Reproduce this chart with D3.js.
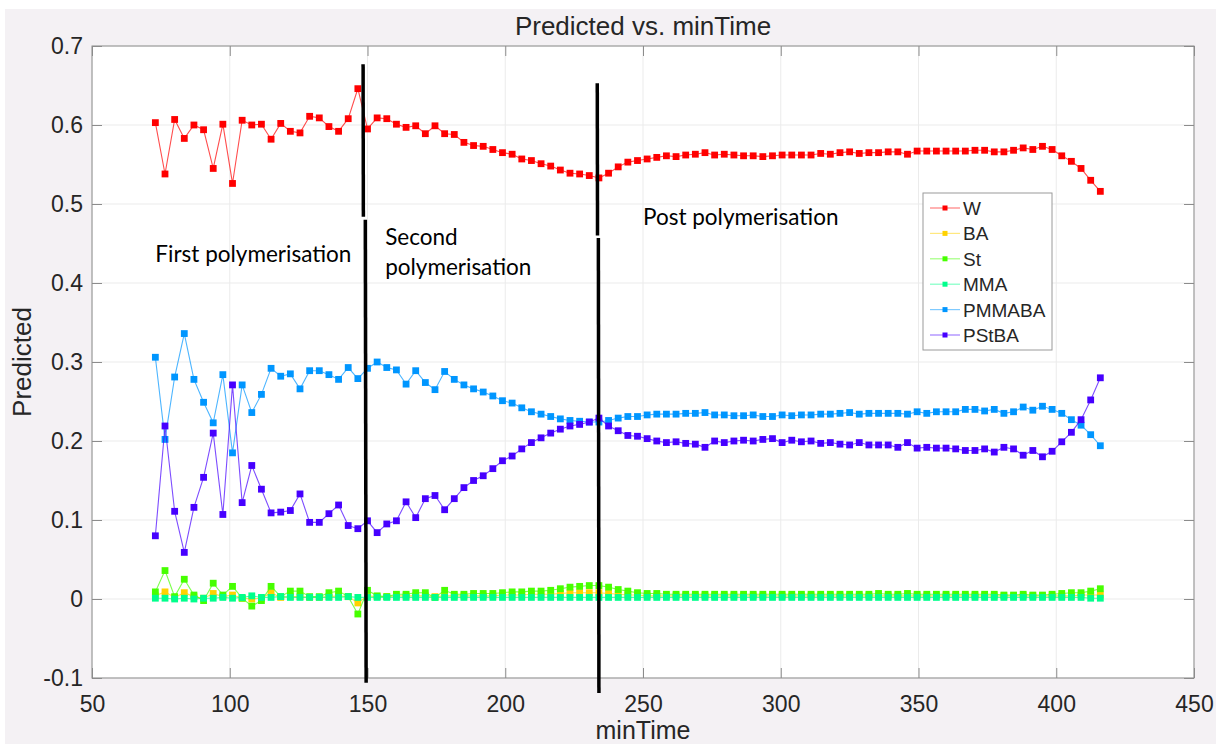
<!DOCTYPE html>
<html>
<head>
<meta charset="utf-8">
<script src="https://cdn.jsdelivr.net/npm/d3@7"></script>
<style>
body{margin:0;background:#fff;}
svg text{font-family:"Liberation Sans",Arial,Helvetica,sans-serif;fill:#262626;}
</style>
</head>
<body>
<div id="vis"></div>
<script>
// sample times (min)
var minTime = [
    73, 76.5, 80, 83.5, 87, 90.5, 94, 97.5, 101, 104.5,
    108, 111.5, 115, 118.5, 122, 125.5, 129, 132.5, 136, 139.5,
    143, 146.5, 150, 153.5, 157, 160.5, 164, 167.5, 171, 174.5,
    178, 181.5, 185, 188.5, 192, 195.5, 199, 202.5, 206, 209.5,
    213, 216.5, 220, 223.5, 227, 230.5, 234, 237.5, 241, 244.5,
    248, 251.5, 255, 258.5, 262, 265.5, 269, 272.5, 276, 279.5,
    283, 286.5, 290, 293.5, 297, 300.5, 304, 307.5, 311, 314.5,
    318, 321.5, 325, 328.5, 332, 335.5, 339, 342.5, 346, 349.5,
    353, 356.5, 360, 363.5, 367, 370.5, 374, 377.5, 381, 384.5,
    388, 391.5, 395, 398.5, 402, 405.5, 409, 412.5, 416
];

// predicted fractions, one array per component
var W = [
    0.603, 0.538, 0.607, 0.583, 0.600, 0.594, 0.545, 0.601, 0.526, 0.606,
    0.600, 0.601, 0.582, 0.602, 0.592, 0.590, 0.611, 0.609, 0.598, 0.592,
    0.608, 0.646, 0.595, 0.609, 0.608, 0.601, 0.597, 0.599, 0.589, 0.599,
    0.589, 0.588, 0.578, 0.574, 0.573, 0.569, 0.565, 0.563, 0.557, 0.555,
    0.551, 0.548, 0.543, 0.539, 0.538, 0.536, 0.533, 0.539, 0.547, 0.553,
    0.555, 0.557, 0.559, 0.561, 0.560, 0.562, 0.563, 0.565, 0.562, 0.563,
    0.562, 0.561, 0.561, 0.560, 0.561, 0.562, 0.562, 0.562, 0.562, 0.564,
    0.563, 0.565, 0.566, 0.564, 0.565, 0.565, 0.566, 0.566, 0.563, 0.567,
    0.567, 0.567, 0.567, 0.567, 0.567, 0.568, 0.568, 0.566, 0.566, 0.568,
    0.571, 0.569, 0.573, 0.569, 0.561, 0.554, 0.545, 0.530, 0.516
];
var BA = [
    0.004, 0.009, 0.002, 0.008, 0.003, 0.001, 0.007, 0.003, 0.005, 0.001,
    0.000, 0.001, 0.008, 0.002, 0.003, 0.003, 0.002, 0.002, 0.003, 0.004,
    0.003, -0.005, 0.004, 0.003, 0.003, 0.004, 0.004, 0.004, 0.004, 0.003,
    0.004, 0.004, 0.004, 0.004, 0.004, 0.004, 0.005, 0.005, 0.005, 0.006,
    0.006, 0.006, 0.007, 0.008, 0.008, 0.008, 0.008, 0.007, 0.006, 0.005,
    0.005, 0.004, 0.004, 0.004, 0.004, 0.004, 0.004, 0.004, 0.004, 0.004,
    0.004, 0.004, 0.004, 0.004, 0.004, 0.004, 0.004, 0.004, 0.004, 0.004,
    0.004, 0.004, 0.004, 0.004, 0.004, 0.004, 0.004, 0.004, 0.004, 0.004,
    0.004, 0.004, 0.004, 0.004, 0.004, 0.004, 0.004, 0.004, 0.004, 0.004,
    0.004, 0.004, 0.004, 0.004, 0.004, 0.004, 0.005, 0.005, 0.005
];
var St = [
    0.009, 0.036, 0.003, 0.025, 0.005, -0.002, 0.020, 0.005, 0.016, 0.001,
    -0.009, -0.002, 0.016, 0.003, 0.010, 0.010, 0.003, 0.003, 0.008, 0.010,
    0.003, -0.019, 0.011, 0.004, 0.003, 0.006, 0.006, 0.008, 0.008, 0.002,
    0.011, 0.006, 0.006, 0.007, 0.007, 0.007, 0.008, 0.009, 0.009, 0.010,
    0.010, 0.011, 0.013, 0.015, 0.016, 0.017, 0.017, 0.015, 0.012, 0.010,
    0.008, 0.007, 0.007, 0.006, 0.006, 0.006, 0.006, 0.006, 0.006, 0.006,
    0.006, 0.006, 0.006, 0.006, 0.006, 0.006, 0.006, 0.006, 0.006, 0.006,
    0.006, 0.006, 0.006, 0.006, 0.006, 0.007, 0.006, 0.006, 0.007, 0.006,
    0.006, 0.006, 0.006, 0.006, 0.006, 0.006, 0.006, 0.006, 0.005, 0.005,
    0.006, 0.005, 0.005, 0.006, 0.007, 0.008, 0.008, 0.010, 0.013
];
var MMA = [
    0.001, 0.001, 0.000, 0.001, 0.000, 0.001, 0.001, 0.002, 0.001, 0.002,
    0.004, 0.002, 0.002, 0.003, 0.002, 0.002, 0.002, 0.002, 0.002, 0.002,
    0.003, 0.002, 0.002, 0.002, 0.002, 0.002, 0.002, 0.002, 0.002, 0.002,
    0.002, 0.002, 0.002, 0.002, 0.002, 0.002, 0.002, 0.002, 0.002, 0.002,
    0.002, 0.002, 0.002, 0.002, 0.002, 0.002, 0.002, 0.002, 0.002, 0.002,
    0.002, 0.002, 0.002, 0.002, 0.002, 0.002, 0.002, 0.002, 0.002, 0.002,
    0.002, 0.002, 0.002, 0.002, 0.002, 0.002, 0.002, 0.002, 0.002, 0.002,
    0.002, 0.002, 0.002, 0.002, 0.002, 0.002, 0.002, 0.002, 0.002, 0.002,
    0.002, 0.002, 0.002, 0.002, 0.002, 0.002, 0.002, 0.002, 0.002, 0.002,
    0.002, 0.002, 0.002, 0.002, 0.002, 0.002, 0.002, 0.001, 0.001
];
var PMMABA = [
    0.306, 0.202, 0.281, 0.336, 0.278, 0.249, 0.223, 0.284, 0.185, 0.271,
    0.236, 0.259, 0.292, 0.282, 0.285, 0.266, 0.289, 0.289, 0.284, 0.278,
    0.293, 0.279, 0.292, 0.300, 0.293, 0.290, 0.272, 0.289, 0.274, 0.265,
    0.288, 0.278, 0.271, 0.266, 0.262, 0.257, 0.251, 0.248, 0.242, 0.237,
    0.234, 0.231, 0.228, 0.226, 0.225, 0.224, 0.224, 0.226, 0.229, 0.231,
    0.231, 0.233, 0.234, 0.234, 0.234, 0.235, 0.235, 0.236, 0.233, 0.233,
    0.232, 0.232, 0.233, 0.231, 0.231, 0.233, 0.232, 0.233, 0.233, 0.234,
    0.234, 0.235, 0.236, 0.234, 0.235, 0.235, 0.235, 0.235, 0.234, 0.237,
    0.235, 0.237, 0.237, 0.237, 0.240, 0.240, 0.238, 0.240, 0.235, 0.237,
    0.243, 0.239, 0.244, 0.240, 0.235, 0.227, 0.220, 0.208, 0.194
];
var PStBA = [
    0.080, 0.219, 0.111, 0.059, 0.116, 0.154, 0.210, 0.107, 0.271, 0.122,
    0.169, 0.139, 0.109, 0.110, 0.112, 0.133, 0.097, 0.097, 0.108, 0.119,
    0.093, 0.089, 0.099, 0.084, 0.095, 0.099, 0.123, 0.103, 0.127, 0.131,
    0.113, 0.127, 0.141, 0.150, 0.156, 0.165, 0.175, 0.181, 0.190, 0.198,
    0.204, 0.210, 0.215, 0.219, 0.221, 0.224, 0.229, 0.219, 0.213, 0.207,
    0.206, 0.203, 0.200, 0.198, 0.199, 0.197, 0.196, 0.192, 0.200, 0.198,
    0.200, 0.201, 0.200, 0.202, 0.203, 0.198, 0.201, 0.199, 0.200, 0.197,
    0.198, 0.196, 0.195, 0.198, 0.195, 0.195, 0.195, 0.192, 0.198, 0.191,
    0.192, 0.191, 0.191, 0.190, 0.188, 0.188, 0.190, 0.186, 0.192, 0.190,
    0.182, 0.188, 0.180, 0.187, 0.199, 0.211, 0.227, 0.252, 0.280
];

var seriesNames = ["W", "BA", "St", "MMA", "PMMABA", "PStBA"];
var seriesValues = [W, BA, St, MMA, PMMABA, PStBA];
var seriesColors = ["#ff0000", "#ffd200", "#46ff00", "#00ff8c", "#0096ff", "#4600ff"];

var xTicks = [50, 100, 150, 200, 250, 300, 350, 400, 450];
var yTicks = [-0.1, 0, 0.1, 0.2, 0.3, 0.4, 0.5, 0.6, 0.7];

// hand drawn phase boundaries, each as two strokes [[x,y],[x,y]]
var phaseLines = [
    [[[148.4, 0.677], [148.5, 0.484]], [[149.2, 0.480], [149.5, -0.106]]],
    [[[233.4, 0.653], [233.5, 0.460]], [[233.8, 0.457], [234.0, -0.119]]]
];
var phaseText = [
    {lines: ["First polymerisation"], at: [73, 0.427]},
    {lines: ["Second", "polymerisation"], at: [156.4, 0.448]},
    {lines: ["Post polymerisation"], at: [250, 0.473]}
];

// layout (matches the matlab figure)
var width = 1216, height = 744;
var pLeft = 92, pRight = 1194, pTop = 46, pBottom = 678;

var svg = d3.select("#vis").append("svg")
    .attr("width", width).attr("height", height);

svg.append("rect").attr("x", 0).attr("y", 0).attr("width", width).attr("height", height).attr("fill", "#fff");
svg.append("rect").attr("x", 5).attr("y", 9).attr("width", width - 5).attr("height", height - 9).attr("fill", "#f4f1f4");
svg.append("rect").attr("x", pLeft).attr("y", pTop).attr("width", pRight - pLeft).attr("height", pBottom - pTop).attr("fill", "#fff");

var x = d3.scaleLinear().domain([50, 450]).range([pLeft, pRight]);
var y = d3.scaleLinear().domain([-0.1, 0.7]).range([pBottom, pTop]);

// grid
svg.append("g").selectAll("line").data(xTicks).enter().append("line")
    .attr("x1", d => x(d)).attr("x2", d => x(d)).attr("y1", pTop).attr("y2", pBottom)
    .attr("stroke", "#ebebeb").attr("stroke-width", 1);
svg.append("g").selectAll("line").data(yTicks).enter().append("line")
    .attr("x1", pLeft).attr("x2", pRight).attr("y1", d => y(d)).attr("y2", d => y(d))
    .attr("stroke", "#ebebeb").attr("stroke-width", 1);

// axes, ticks pointing inward like matlab
var fmtY = function(d) {
    if (Math.abs(d) < 1e-9) return "0";
    return d3.format(".1f")(d).replace("\u2212", "-");
};
svg.append("g").attr("transform", "translate(0," + pBottom + ")")
    .call(d3.axisBottom(x).tickValues(xTicks).tickSize(-10).tickSizeOuter(0).tickPadding(18));
svg.append("g").attr("transform", "translate(0," + pTop + ")")
    .call(d3.axisTop(x).tickValues(xTicks).tickSize(-10).tickSizeOuter(0).tickFormat(""));
svg.append("g").attr("transform", "translate(" + pLeft + ",0)")
    .call(d3.axisLeft(y).tickValues(yTicks).tickSize(-10).tickSizeOuter(0).tickPadding(9).tickFormat(fmtY));
svg.append("g").attr("transform", "translate(" + pRight + ",0)")
    .call(d3.axisRight(y).tickValues(yTicks).tickSize(-10).tickSizeOuter(0).tickFormat(""));
svg.selectAll(".domain").remove();
svg.selectAll(".tick line").attr("stroke", "#8c8c8c");
svg.selectAll(".tick text").attr("font-size", "23px").attr("fill", "#262626")
    .attr("font-family", "'Liberation Sans', Arial, sans-serif");

svg.append("rect").attr("x", pLeft).attr("y", pTop).attr("width", pRight - pLeft).attr("height", pBottom - pTop)
    .attr("fill", "none").attr("stroke", "#8c8c8c").attr("stroke-width", 1);

// series
var line = d3.line().x((d, i) => x(minTime[i])).y(d => y(d));
var plot = svg.append("g");
for (var s = 0; s < seriesNames.length; s++) {
    var g = plot.append("g").attr("class", "series");
    g.append("path").datum(seriesValues[s])
        .attr("d", line).attr("fill", "none")
        .attr("stroke", seriesColors[s]).attr("stroke-opacity", 0.7).attr("stroke-width", 1.1);
    g.selectAll("rect").data(seriesValues[s]).enter().append("rect")
        .attr("x", (d, i) => x(minTime[i]) - 3.4).attr("y", d => y(d) - 3.4)
        .attr("width", 6.8).attr("height", 6.8)
        .attr("fill", seriesColors[s]);
}

// phase boundaries
var pl = d3.line().x(d => x(d[0])).y(d => y(d[1]));
phaseLines.forEach(function(strokes) {
    strokes.forEach(function(seg) {
        svg.append("path").attr("d", pl(seg)).attr("stroke", "#000").attr("stroke-width", 3.5).attr("fill", "none");
    });
});

// phase labels
phaseText.forEach(function(p) {
    p.lines.forEach(function(t, k) {
        svg.append("text").text(t)
            .attr("x", x(p.at[0])).attr("y", y(p.at[1]) + k * 30)
            .attr("font-size", "22.5px")
            .style("fill", "#000").style("font-family", "Lato, 'Open Sans', sans-serif");
    });
});

// legend
var lg = svg.append("g").attr("transform", "translate(923,193)");
lg.append("rect").attr("width", 129).attr("height", 157).attr("fill", "#fff").attr("stroke", "#9a9a9a").attr("stroke-width", 1);
seriesNames.forEach(function(name, i) {
    var ly = 15 + i * 25.4;
    lg.append("line").attr("x1", 7).attr("x2", 37).attr("y1", ly).attr("y2", ly)
        .attr("stroke", seriesColors[i]).attr("stroke-opacity", 0.5).attr("stroke-width", 1.2);
    lg.append("rect").attr("x", 19.5).attr("y", ly - 2.5).attr("width", 5).attr("height", 5).attr("fill", seriesColors[i]);
    lg.append("text").text(name).attr("x", 40).attr("y", ly + 7).attr("font-size", "19px");
});

// titles
svg.append("text").text("Predicted vs. minTime").attr("x", (pLeft + pRight) / 2).attr("y", 35)
    .attr("text-anchor", "middle").attr("font-size", "26px");
svg.append("text").text("minTime").attr("x", (pLeft + pRight) / 2).attr("y", 739)
    .attr("text-anchor", "middle").attr("font-size", "25px");
svg.append("text").text("Predicted").attr("transform", "translate(31," + (pTop + pBottom) / 2 + ") rotate(-90)")
    .attr("text-anchor", "middle").attr("font-size", "26px");
</script>
</body>
</html>
